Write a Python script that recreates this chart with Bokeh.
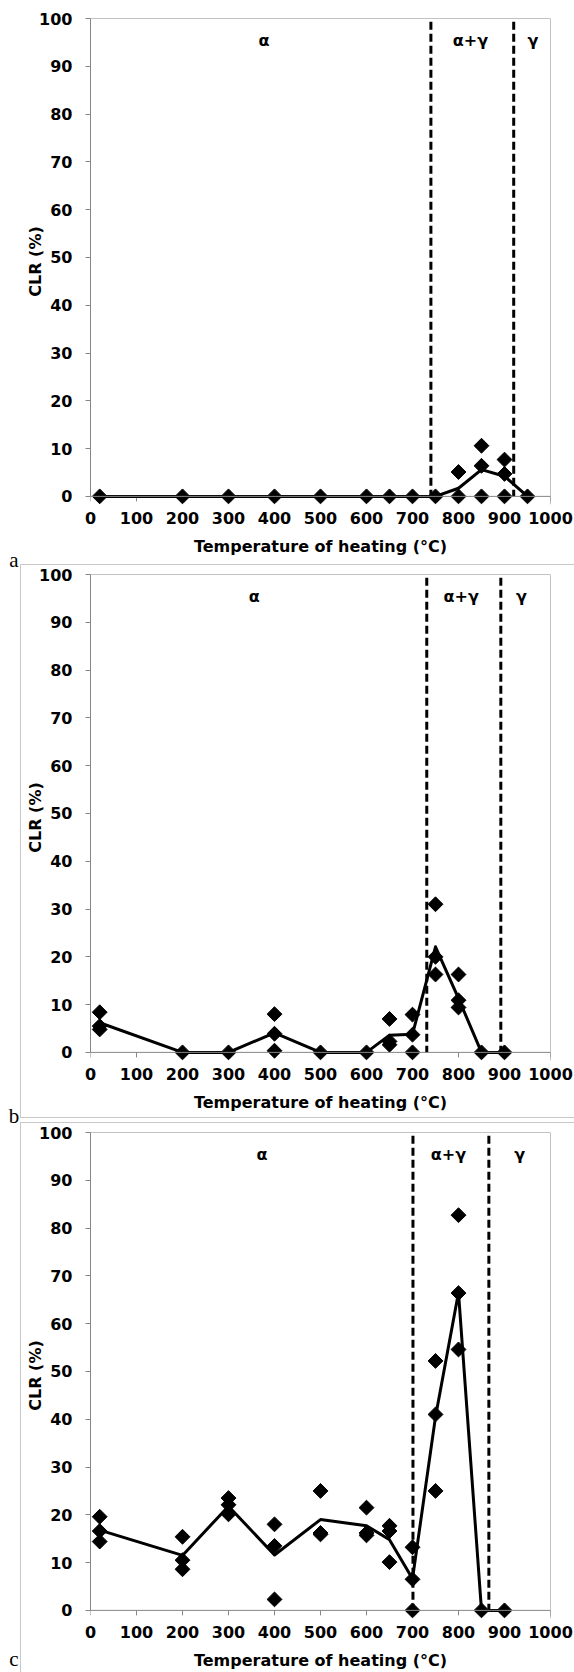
import math
from bokeh.plotting import figure
from bokeh.models import Range1d, FixedTicker, Span, Label
from bokeh.layouts import column, row
from bokeh.embed import file_html
from bokeh.resources import INLINE
from bokeh.core.properties import value

x_ticks = [0, 100, 200, 300, 400, 500, 600, 700, 800, 900, 1000]
y_ticks = [0, 10, 20, 30, 40, 50, 60, 70, 80, 90, 100]
phase_names = ["α", "α+γ", "γ"]
x_title = "Temperature of heating (°C)"
y_title = "CLR (%)"
panel_letters = ["a", "b", "c"]

# ---- panel a ----
a_pts_x = [20, 200, 300, 400, 500, 600, 650, 700, 750, 800, 800, 850, 850, 850, 900, 900, 900, 950]
a_pts_y = [0, 0, 0, 0, 0, 0, 0, 0, 0, 0, 5.1, 0, 6.4, 10.6, 0, 4.7, 7.7, 0]
a_line_x = [20, 200, 300, 400, 500, 600, 650, 700, 750, 800, 850, 900, 950]
a_line_y = [0, 0, 0, 0, 0, 0, 0, 0, 0, 1.7, 5.6, 4.2, 0]
a_bounds = [740, 920]
a_phase_x = [377, 826, 962]

# ---- panel b ----
b_pts_x = [20, 20, 20, 200, 300, 400, 400, 400, 500, 600, 650, 650, 650, 700, 700, 700,
           750, 750, 750, 800, 800, 800, 850, 900]
b_pts_y = [8.4, 5.5, 4.8, 0, 0, 8.0, 3.9, 0.35, 0, 0, 7.0, 2.3, 1.6, 7.9, 3.7, 0,
           31.0, 20.0, 16.3, 16.3, 10.9, 9.4, 0, 0]
b_line_x = [20, 200, 300, 400, 500, 600, 650, 700, 750, 800, 850, 900]
b_line_y = [6.2, 0, 0, 4.1, 0, 0, 3.6, 3.8, 22.1, 11.3, 0, 0]
b_bounds = [731, 892]
b_phase_x = [356, 806, 937]

# ---- panel c ----
c_pts_x = [20, 20, 20, 200, 200, 200, 300, 300, 300, 400, 400, 400, 500, 500, 500,
           600, 600, 600, 650, 650, 650, 700, 700, 700, 750, 750, 750, 800, 800, 800, 850, 900]
c_pts_y = [19.6, 16.6, 14.4, 15.4, 10.5, 8.6, 23.5, 22.1, 20.1, 18.0, 13.5, 2.3, 25.0, 16.2, 15.9,
           21.5, 16.2, 15.7, 17.7, 16.6, 10.1, 13.2, 6.5, 0, 52.2, 41.0, 25.0, 82.7, 66.4, 54.6, 0, 0]
c_line_x = [20, 200, 300, 400, 500, 600, 650, 700, 750, 800, 850, 900]
c_line_y = [16.8, 11.5, 21.8, 11.6, 19.0, 17.7, 14.8, 6.6, 40.5, 66.5, 0, 0]
c_bounds = [701, 866]
c_phase_x = [373, 778, 933]

FONT = "DejaVu Sans"
AX = "#868686"
BORDER = "#c8c8c8"
Y0 = -1.7
FRAME_H = 486
FRAME_W = 460
MAIN_W = 554
LEFT = 70
PXU = FRAME_H / (100 - Y0)
FS = "16px"
H_A, H_B, H_C = 561, 559, 552
TOTAL_H = H_A + H_B + H_C


def make_letters():
    # narrow strip left of the three charts carrying the panel letters (canvas pixel space)
    f = figure(width=20, height=TOTAL_H, x_range=Range1d(0, 20), y_range=Range1d(TOTAL_H, 0),
               x_axis_type=None, y_axis_type=None, min_border=0,
               output_backend="svg", toolbar_location=None)
    f.outline_line_color = None
    f.background_fill_color = None
    f.border_fill_color = None
    f.text(x=[13.5, 13.5, 13.5], y=[559, 1115, 1658], text=panel_letters, text_align="center",
           text_baseline="alphabetic", text_font=value("Liberation Serif"),
           text_font_size="21px", text_color="black")
    return f


def make_panel(px, py, lx, ly, bounds, phase_x, H, top, border):
    bottom = H - top - FRAME_H
    p = figure(width=MAIN_W, height=H,
               x_range=Range1d(0, 1000), y_range=Range1d(Y0, 100),
               output_backend="svg", toolbar_location=None,
               min_border_left=LEFT, min_border_right=MAIN_W - LEFT - FRAME_W,
               min_border_top=top, min_border_bottom=bottom)
    p.outline_line_color = None
    p.grid.visible = False
    p.background_fill_color = "white"
    if border is not None:
        p.border_fill_color = None
        t, b = border
        g = "linear-gradient(%s,%s)" % (BORDER, BORDER)
        bg = "%s 0px %dpx / 1px %dpx no-repeat, %s 0px %dpx / 100%% 1px no-repeat" % (
            g, t, b - t + 1, g, t)
        if b < H:
            bg += ", %s 0px %dpx / 100%% 1px no-repeat" % (g, b)
        p.styles = {"background": bg}
    else:
        p.border_fill_color = "white"

    xa = p.xaxis[0]
    xa.ticker = FixedTicker(ticks=x_ticks)
    xa.axis_line_color = None
    xa.major_tick_line_color = None
    xa.major_tick_out = 0
    xa.major_tick_in = 0
    xa.minor_tick_line_color = None
    xa.major_label_standoff = 7

    ya = p.yaxis[0]
    ya.ticker = FixedTicker(ticks=y_ticks)
    ya.bounds = (0, 100)
    ya.axis_line_color = AX
    ya.major_tick_line_color = AX
    ya.major_tick_out = 5
    ya.major_tick_in = 0
    ya.minor_tick_line_color = None
    ya.major_label_standoff = 13

    for ax in (xa, ya):
        ax.major_label_text_font = FONT
        ax.major_label_text_font_style = "bold"
        ax.major_label_text_font_size = FS
        ax.major_label_text_color = "black"
        ax.axis_label_text_font = FONT
        ax.axis_label_text_font_style = "bold"
        ax.axis_label_text_font_size = FS
        ax.axis_label_text_color = "black"
    xa.axis_label = x_title
    xa.axis_label_standoff = 10
    ya.axis_label = y_title
    ya.axis_label_standoff = -9

    # plot-area border (top, right) and the x axis line at 0 with its tick marks
    p.add_layout(Span(location=100, dimension="width", line_color=AX, line_width=1))
    p.add_layout(Span(location=1000, dimension="height", line_color=AX, line_width=1))
    p.add_layout(Span(location=0, dimension="width", line_color=AX, line_width=1))
    p.segment(x0=x_ticks, y0=[0] * len(x_ticks), x1=x_ticks, y1=[-5 / PXU] * len(x_ticks),
              line_color=AX, line_width=1)

    for bnd in bounds:
        p.line([bnd, bnd], [99.3, 0], line_color="black", line_width=3, line_dash="8 4")
    p.line(lx, ly, line_color="black", line_width=3, line_join="round")
    p.scatter(px, py, marker="square", size=10.5, angle=math.pi / 4,
              fill_color="black", line_color="black")

    for name, x in zip(phase_names, phase_x):
        p.add_layout(Label(x=x, y=95.4, text=name, text_align="center", text_baseline="middle",
                           text_font=FONT, text_font_style="bold", text_font_size=FS,
                           text_color="black"))
    return p


pa = make_panel(a_pts_x, a_pts_y, a_line_x, a_line_y, a_bounds, a_phase_x, H_A, 18, None)
pb = make_panel(b_pts_x, b_pts_y, b_line_x, b_line_y, b_bounds, b_phase_x, H_B, 13, (3, 556))
pc = make_panel(c_pts_x, c_pts_y, c_line_x, c_line_y, c_bounds, c_phase_x, H_C, 12, (2, 9999))

layout = row(make_letters(), column(pa, pb, pc))
open("out.html", "w").write(file_html(layout, INLINE))
